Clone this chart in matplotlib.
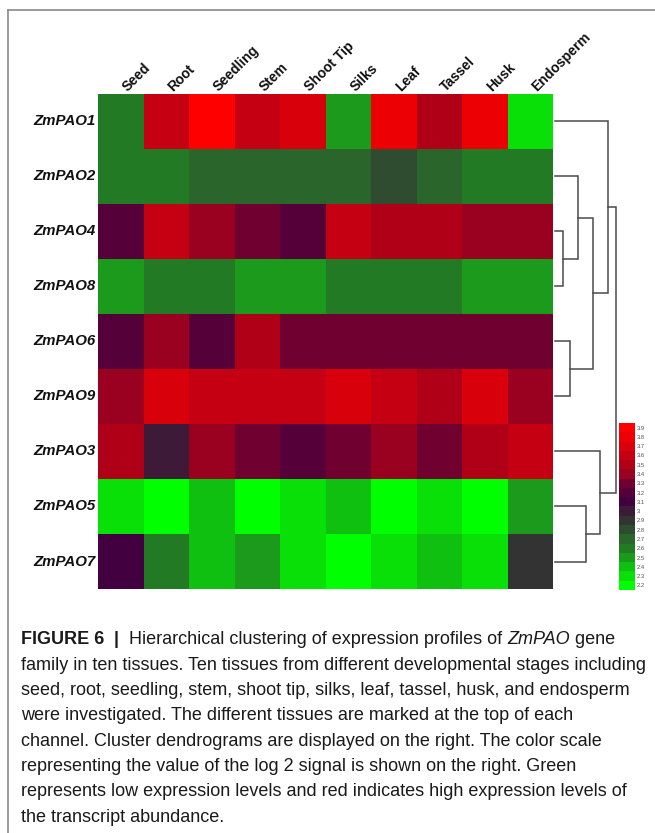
import numpy as np
import matplotlib
matplotlib.use('Agg')
import matplotlib.pyplot as plt
from matplotlib.colors import ListedColormap, BoundaryNorm
from matplotlib.lines import Line2D

plt.rcParams['font.family'] = ['Liberation Sans', 'DejaVu Sans']

# ---- data ----
genes = ['ZmPAO1', 'ZmPAO2', 'ZmPAO4', 'ZmPAO8', 'ZmPAO6',
         'ZmPAO9', 'ZmPAO3', 'ZmPAO5', 'ZmPAO7']
tissues = ['Seed', 'Root', 'Seedling', 'Stem', 'Shoot Tip',
           'Silks', 'Leaf', 'Tassel', 'Husk', 'Endosperm']

# log2 signal, one row per gene (in display order)
zmpao1 = [2.6, 3.6, 3.9, 3.6, 3.7, 2.5, 3.8, 3.5, 3.8, 2.3]
zmpao2 = [2.6, 2.6, 2.7, 2.7, 2.7, 2.7, 2.8, 2.7, 2.6, 2.6]
zmpao4 = [3.2, 3.6, 3.4, 3.3, 3.2, 3.6, 3.5, 3.5, 3.4, 3.4]
zmpao8 = [2.5, 2.6, 2.6, 2.5, 2.5, 2.6, 2.6, 2.6, 2.5, 2.5]
zmpao6 = [3.2, 3.4, 3.2, 3.5, 3.3, 3.3, 3.3, 3.3, 3.3, 3.3]
zmpao9 = [3.4, 3.7, 3.6, 3.6, 3.6, 3.7, 3.6, 3.5, 3.7, 3.4]
zmpao3 = [3.5, 3.0, 3.4, 3.3, 3.2, 3.3, 3.4, 3.3, 3.5, 3.6]
zmpao5 = [2.3, 2.2, 2.4, 2.2, 2.3, 2.4, 2.2, 2.3, 2.2, 2.5]
zmpao7 = [3.1, 2.6, 2.4, 2.5, 2.3, 2.2, 2.3, 2.4, 2.3, 2.9]

# row clustering: (child a, child b, distance); leaves 0..8, new clusters 9..
merges = [(2, 3, 8), (4, 5, 15), (1, 9, 23), (7, 8, 31),
          (11, 10, 38), (6, 12, 45), (0, 13, 53), (15, 14, 61)]

scale_levels = [2.2, 2.3, 2.4, 2.5, 2.6, 2.7, 2.8, 2.9, 3.0,
                3.1, 3.2, 3.3, 3.4, 3.5, 3.6, 3.7, 3.8, 3.9]
scale_colors = ['#00ff00', '#08e008', '#10c010', '#1c9a1c', '#227a24', '#2a652c',
                '#2f4c31', '#333333', '#3c1a38', '#420040', '#550038', '#700030',
                '#9a0020', '#b00018', '#c40012', '#d8000a', '#ec0004', '#ff0000']

caption_lines = [
    'family in ten tissues. Ten tissues from different developmental stages including',
    'seed, root, seedling, stem, shoot tip, silks, leaf, tassel, husk, and endosperm',
    'were investigated. The different tissues are marked at the top of each',
    'channel. Cluster dendrograms are displayed on the right. The color scale',
    'representing the value of the log 2 signal is shown on the right. Green',
    'represents low expression levels and red indicates high expression levels of',
    'the transcript abundance.',
]

W, H = 655, 833
fig = plt.figure(figsize=(W / 100, H / 100), dpi=100)
fig.patch.set_facecolor('white')


def px_axes(x0, y0, x1, y1):
    """axes from pixel box (top-left origin)"""
    return fig.add_axes([x0 / W, 1 - y1 / H, (x1 - x0) / W, (y1 - y0) / H])


# frame around the figure panel
fig.add_artist(Line2D([8 / W, 8 / W], [0, 1 - 10 / H], transform=fig.transFigure,
                      color='#8a8a8a', lw=1.2))
fig.add_artist(Line2D([8 / W, 1], [1 - 10 / H, 1 - 10 / H], transform=fig.transFigure,
                      color='#8a8a8a', lw=1.2))

# ---- heatmap ----
values = np.array([zmpao1, zmpao2, zmpao4, zmpao8, zmpao6,
                   zmpao9, zmpao3, zmpao5, zmpao7])
cmap = ListedColormap(scale_colors)
bounds = np.append(np.array(scale_levels) - 0.05, scale_levels[-1] + 0.05)
norm = BoundaryNorm(bounds, cmap.N)

hm_top, hm_bot, hm_left, hm_right = 94, 589, 98, 553
ax = px_axes(hm_left, hm_top, hm_right, hm_bot)
ax.pcolormesh(np.arange(len(tissues) + 1) - 0.5, np.arange(len(genes) + 1) - 0.5,
              values, cmap=cmap, norm=norm, edgecolors='none')
ax.set_xlim(-0.5, len(tissues) - 0.5)
ax.set_ylim(len(genes) - 0.5, -0.5)
ax.set_xticks([])
ax.set_yticks([])
for s in ax.spines.values():
    s.set_visible(False)

for i, g in enumerate(genes):
    ax.text(-0.56, i, g, ha='right', va='center', fontsize=10.8,
            fontweight='bold', fontstyle='italic', color='#111111')
for j, t in enumerate(tissues):
    ax.annotate(t, xy=(j + 0.2, -0.5), xytext=(0, 0), textcoords='offset points',
                ha='left', va='bottom', rotation=45, rotation_mode='anchor',
                fontsize=10, fontweight='bold', color='#111111')

# ---- dendrogram ----
dax = px_axes(553, hm_top, 625, hm_bot)
dax.set_xlim(-2, 70)
dax.set_ylim(len(genes) - 0.5, -0.5)
dax.axis('off')
pos = {i: (0.0, float(i)) for i in range(len(genes))}
for k, (a, b, d) in enumerate(merges):
    xa, ya = pos[a]
    xb, yb = pos[b]
    dax.plot([xa, d, d, xb], [ya, ya, yb, yb], color='#4a4a4a', lw=1.1,
             solid_joinstyle='miter')
    pos[len(genes) + k] = (d, (ya + yb) / 2)

# ---- colour scale ----
cax = px_axes(619, 423, 635, 590)
cax.pcolormesh([0, 1], bounds, np.array(scale_levels)[:, None], cmap=cmap, norm=norm)
cax.set_xlim(0, 1)
cax.set_ylim(bounds[0], bounds[-1])
cax.set_xticks([])
cax.yaxis.tick_right()
cax.set_yticks(scale_levels)
cax.set_yticklabels([('%g' % v) for v in scale_levels], fontsize=4.2, color='#555555')
cax.tick_params(axis='y', length=0, pad=1.5)
for s in cax.spines.values():
    s.set_visible(False)

# ---- caption ----
fig.canvas.draw()
renderer = fig.canvas.get_renderer()
cap_size = 13
x = 21 / W
y1 = 1 - 640 / H
first = [('FIGURE 6', 'bold', 'normal'), ('  |  ', 'bold', 'normal'),
         ('Hierarchical clustering of expression profiles of ', 'normal', 'normal'),
         ('ZmPAO', 'normal', 'italic'), (' gene', 'normal', 'normal')]
for txt, wgt, sty in first:
    t = fig.text(x, y1, txt, fontsize=cap_size, fontweight=wgt, fontstyle=sty,
                 va='center', ha='left', color='#1a1a1a')
    bb = t.get_window_extent(renderer)
    x += bb.width / W
for k, line in enumerate(caption_lines):
    fig.text(21 / W, 1 - (640 + 25.3 * (k + 1)) / H, line, fontsize=cap_size,
             va='center', ha='left', color='#1a1a1a')

fig.savefig('out.png', dpi=100, facecolor='white')
